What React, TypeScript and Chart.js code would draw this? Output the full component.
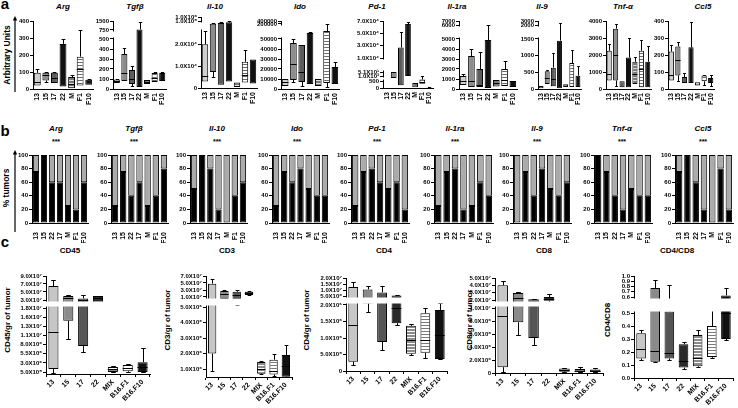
import React, { useEffect, useRef } from 'react';
import { Chart, registerables, LinearScale } from 'chart.js';

Chart.register(...registerables);

const FONT = "'Liberation Sans', Arial, Helvetica, sans-serif";
Chart.defaults.font.family = FONT;
Chart.defaults.color = '#000';

// ---------------- categories ----------------
const CAT_A = ['13', '15', '17', '22', 'M', 'F1', 'F10'];
const CAT_B = ['13', '15', '22', '17', 'M', 'F1', 'F10'];
const CAT_C = ['13', '15', '17', '22', 'MIX', 'B16.F1', 'B16.F10'];

// ---------------- row a : box values ----------------
const argQ1 = [20, 50, 35, 15, 5, 20, 25];
const argQ3 = [95, 95, 95, 265, 70, 190, 55];
const argMed = [40, 80, 65, null, 30, 120, null];
const argMax = [115, 100, 100, 295, 85, 350, 60];
const argMin = [null, 40, null, null, null, null, null];
const argTicks = [0, 100, 200, 300, 400];

const tgfbQ1 = [60, 80, 50, 20, 50, 70, 80];
const tgfbQ3 = [95, 350, 190, 800, 90, 160, 160];
const tgfbMed = [80, 160, 100, null, 70, 110, null];
const tgfbMax = [100, 410, 230, 1400, null, 175, 170];
const tgfbMin = [null, null, 30, null, null, null, null];
const tgfbTicks = [0, 100, 200, 300, 400, 500, 750, 1500];

const il10Q1 = [3000, 7300, 1500, 3000, 500, 2500, 2000];
const il10Q3 = [20000, 80000, 85000, 90000, 2500, 12000, 13000];
const il10Med = [5500, null, null, null, null, 6000, null];
const il10Max = [26000, 88000, 95000, 100000, null, 17500, null];
const il10Min = [null, 4800, null, null, null, null, null];
const il10Ticks = [0, 10000, 20000, 100000, 1000000];
const il10TickLabels = ['0', '1.0X10⁴', '2.0X10⁴', '1.0X10⁵', '1.0X10⁶'];

const idoQ1 = [3000, 9000, 7000, 5000, 3000, 6000, 5000];
const idoQ3 = [10000, 46000, 44000, 110000, 10000, 130000, 22000];
const idoMed = [7000, 25000, 17000, null, null, null, null];
const idoMax = [null, 50000, null, 125000, null, 200000, 27000];
const idoMin = [null, 7000, 3000, null, null, 2000, null];
const idoTicks = [0, 10000, 20000, 30000, 40000, 50000, 200000, 400000];

const pd1Q1 = [0, 800, 200, 1000, 50, 300, 0];
const pd1Q3 = [0, 5000, 27000, 65000, 350, 650, 60];
const pd1Med = [null, null, null, null, null, 450, null];
const pd1Max = [null, null, 52000, 69000, null, 1000, 100];
const pd1Min = [null, null, null, null, null, null, null];
const pd1Ticks = [0, 500, 1000, 5100, 10000, 30000, 50000, 70000];
const pd1TickLabels = ['0', '500', '1.0X10³', '5.1X10³', '1.0X10⁴', '3.0X10⁴', '5.0X10⁴', '7.0X10⁴'];

const il1raQ1 = [400, 200, 200, 100, 250, 300, 200];
const il1raQ3 = [1300, 3300, 2000, 4900, 900, 2000, 800];
const il1raMed = [800, 800, 400, null, 600, 900, null];
const il1raMax = [1500, 4000, 3700, 6100, null, 2800, null];
const il1raMin = [null, null, null, null, null, null, null];
const il1raTicks = [0, 1000, 2000, 3000, 4000, 5000, 6000, 7000];

const il9Q1 = [20, 150, 80, 20, 60, 60, 60];
const il9Q3 = [90, 530, 640, 1450, 140, 780, 400];
const il9Med = [null, 330, 300, null, null, null, null];
const il9Max = [null, 560, 1080, 2500, null, 1170, 690];
const il9Min = [null, null, null, null, null, null, null];
const il9Ticks = [0, 500, 1000, 1500, 2000, 3000];

const tnfQ1 = [500, 500, 100, 100, 300, 100, 100];
const tnfQ3 = [2250, 3550, 450, 1850, 1600, 2250, 1600];
const tnfMed = [900, 2000, null, null, 900, 1200, null];
const tnfMax = [2650, 3850, null, 3000, 1880, 2900, 2550];
const tnfMin = [null, 200, null, null, null, null, null];
const tnfTicks = [0, 1000, 2000, 3000, 4000];

const ccl5Q1 = [50, 80, 35, 35, 20, 45, 35];
const ccl5Q3 = [220, 250, 70, 245, 40, 80, 65];
const ccl5Med = [80, 170, null, null, null, null, null];
const ccl5Max = [260, 275, 95, 395, null, 85, 85];
const ccl5Min = [null, 45, null, null, null, 25, 20];
const ccl5Ticks = [0, 100, 200, 300, 400];

// ---------------- row b : % tumors (black part) ----------------
const argPct = [75, 100, 60, 60, 25, 20, 60];
const tgfbPct = [25, 75, 40, 60, 25, 40, 80];
const il10Pct = [50, 100, 80, 20, 0, 40, 60];
const idoPct = [25, 75, 60, 80, 50, 40, 40];
const pd1Pct = [25, 75, 80, 60, 50, 60, 20];
const il1raPct = [25, 75, 80, 20, 25, 60, 40];
const il9Pct = [0, 75, 40, 80, 50, 40, 60];
const tnfPct = [100, 75, 40, 20, 50, 40, 40];
const ccl5Pct = [75, 100, 60, 20, 0, 80, 20];
const pctTicks = [0, 20, 40, 60, 80, 100];

// ---------------- row c : cell counts ----------------
const cd45Min = [2e5, 9.5e6, 6.0e6, 2.4e7, 4e5, 5e5, 5e5];
const cd45Q1 = [1.3e6, 1.45e7, 7.6e6, 2.6e7, 5e5, 7e5, 5e5];
const cd45Med = [1.15e7, 3.5e7, 3.0e7, 3.5e7, 1.2e6, 1.6e6, 2e6];
const cd45Q3 = [6.5e7, 4.0e7, 3.4e7, 4.0e7, 1.9e6, 2.4e6, 3.2e6];
const cd45Max = [8.0e7, 4.2e7, 4.2e7, 4.1e7, 2.1e6, 2.7e6, 7e6];
const cd45Ticks = [5e5, 3e6, 5.5e6, 8e6, 1.05e7, 1.3e7, 1.55e7, 1.8e7, 3e7, 5e7, 7e7, 9e7];
const cd45TickLabels = ['5.0X10⁵', '3.0X10⁶', '5.5X10⁶', '8.0X10⁶', '1.1X10⁷', '1.3X10⁷', '1.6X10⁷', '1.8X10⁷', '3.0X10⁷', '5.0X10⁷', '7.0X10⁷', '9.0X10⁷'];

const cd3Min = [8.5e5, 7e6, 6e6, 1.5e7, 6.5e5, 5.5e5, 5e5];
const cd3Q1 = [2.0e6, 9e6, 9e6, 1.6e7, 7e5, 6.5e5, 5e5];
const cd3Med = [8e6, 1.9e7, 1.5e7, 2.2e7, 1.0e6, 8.5e5, 1.2e6];
const cd3Q3 = [4.8e7, 2.7e7, 2.5e7, 2.5e7, 1.45e6, 1.6e6, 1.9e6];
const cd3Max = [6.2e7, 2.9e7, 2.9e7, 2.6e7, 1.5e6, 1.95e6, 2.55e6];
const cd3Ticks = [1e6, 2e6, 3e6, 4e6, 5e6, 1e7, 3e7, 5e7, 7e7];
const cd3TickLabels = ['1.0X10⁶', '2.0X10⁶', '3.0X10⁶', '4.0X10⁶', '5.0X10⁶', '1.0X10⁷', '3.0X10⁷', '5.0X10⁷', '7.0X10⁷'];

const cd4Min = [1.8e5, 1.8e6, 6.5e5, 1.4e6, 5e5, 3.8e5, 3.5e5];
const cd4Q1 = [2.8e5, 2.5e6, 8.8e5, 1.45e6, 5.2e5, 5.5e5, 3.6e5];
const cd4Med = [1.4e6, 4e6, 4e6, 1.9e6, 9.5e5, 9.5e5, 1.1e6];
const cd4Q3 = [1.25e7, 1.05e7, 8e6, 5.5e6, 1.37e6, 1.75e6, 1.85e6];
const cd4Max = [1.7e7, 1.3e7, 1.3e7, 6e6, 1.42e6, 1.9e6, 2.6e6];
const cd4Ticks = [0, 5e5, 1e6, 1.5e6, 2e6, 5e6, 1e7, 1.5e7, 2e7];
const cd4TickLabels = ['0', '5.0X10⁵', '1.0X10⁶', '1.5X10⁶', '2.0X10⁶', '5.0X10⁶', '1.0X10⁷', '1.5X10⁷', '2.0X10⁷'];

const cd8Min = [2e5, 5.8e6, 4.3e6, 1.8e7, 1e5, 1e5, 1e5];
const cd8Q1 = [9e5, 7.8e6, 5.4e6, 1.9e7, 2e5, 1.5e5, 1.5e5];
const cd8Med = [8.8e6, 2.3e7, 1.5e7, 2.2e7, 4.5e5, 3.5e5, 3.5e5];
const cd8Q3 = [4.0e7, 2.95e7, 2.1e7, 2.4e7, 7e5, 6e5, 5.5e5];
const cd8Max = [4.6e7, 3.1e7, 2.2e7, 2.8e7, 8e5, 9e5, 7e5];
const cd8Ticks = [0, 2e6, 4e6, 6e6, 8e6, 1e7, 2e7, 3e7, 4e7, 5e7];
const cd8TickLabels = ['0', '2.0X10⁶', '4.0X10⁶', '6.0X10⁶', '8.0X10⁶', '1.0X10⁷', '2.0X10⁷', '3.0X10⁷', '4.0X10⁷', '5.0X10⁷'];

const ratioMin = [0.14, 0.12, 0.14, 0.07, 0.085, 0.155, 0.29];
const ratioQ1 = [0.15, 0.125, 0.15, 0.08, 0.09, 0.16, 0.3];
const ratioMed = [0.22, 0.21, 0.19, 0.13, 0.155, 0.17, 0.5];
const ratioQ3 = [0.345, 0.77, 0.51, 0.26, 0.33, 0.4, 0.63];
const ratioMax = [0.37, 0.92, 0.83, 0.28, 0.37, 0.57, 0.78];
const ratioTicks = [0, 0.1, 0.2, 0.3, 0.4, 0.5, 0.6, 0.7, 0.8, 0.9, 1.0];

// ---------------- broken axis scale ----------------
const brokenMap = new WeakMap();

function warpY(segs, v) {
  const lerp = (x, a, ya, b, yb) => ya + ((x - a) * (yb - ya)) / (b - a);
  const n = segs.length;
  if (v <= segs[0][0]) return lerp(v, segs[0][0], segs[0][1], segs[0][2], segs[0][3]);
  for (let i = 0; i < n; i++) {
    const [a, ya, b, yb] = segs[i];
    if (v >= a && v <= b) return lerp(v, a, ya, b, yb);
    if (i < n - 1 && v > b && v < segs[i + 1][0]) return lerp(v, b, yb, segs[i + 1][0], segs[i + 1][1]);
  }
  const s = segs[n - 1];
  return lerp(v, s[0], s[1], s[2], s[3]);
}

class BrokenScale extends LinearScale {
  static id = 'broken';
  static defaults = {};
  buildTicks() {
    const cfg = brokenMap.get(this.chart.canvas);
    return cfg.ticks.map((v) => ({ value: v }));
  }
  getPixelForValue(v) {
    if (v === null || v === undefined || Number.isNaN(v)) return NaN;
    const cfg = brokenMap.get(this.chart.canvas);
    const y = warpY(cfg.segs, v);
    return this.getPixelForDecimal((cfg.bottom - y) / (cfg.bottom - cfg.top));
  }
}
Chart.register(BrokenScale);

// ---------------- panel layouts ----------------
const ROW_A = [
  { title: 'Arg', tx: 63, x0: 33, x1: 93, top: 21, bottom: 89, yW: 20, segs: [[0, 89, 400, 21]], ticks: argTicks, labels: argTicks.map(String), q1: argQ1, q3: argQ3, med: argMed, max: argMax, min: argMin },
  { title: 'Tgfβ', tx: 135, x0: 113, x1: 166, top: 21, bottom: 89, yW: 20, segs: [[0, 89, 500, 39], [750, 30, 1500, 21]], ticks: tgfbTicks, labels: tgfbTicks.map(String), q1: tgfbQ1, q3: tgfbQ3, med: tgfbMed, max: tgfbMax, min: tgfbMin },
  { title: 'Il-10', tx: 215, x0: 201, x1: 257, top: 17, bottom: 88, yW: 32, segs: [[0, 88, 26000, 31], [100000, 21, 1000000, 17]], ticks: il10Ticks, labels: il10TickLabels, q1: il10Q1, q3: il10Q3, med: il10Med, max: il10Max, min: il10Min },
  { title: 'Ido', tx: 300, x0: 281, x1: 339, top: 21, bottom: 89, yW: 28, segs: [[0, 89, 50000, 39], [200000, 24, 400000, 21]], ticks: idoTicks, labels: idoTicks.map(String), q1: idoQ1, q3: idoQ3, med: idoMed, max: idoMax, min: idoMin },
  { title: 'Pd-1', tx: 377, x0: 383, x1: 433, top: 21, bottom: 88, yW: 32, segs: [[0, 88, 500, 81], [1000, 76, 5100, 72], [10000, 58, 70000, 21]], ticks: pd1Ticks, labels: pd1TickLabels, q1: pd1Q1, q3: pd1Q3, med: pd1Med, max: pd1Max, min: pd1Min },
  { title: 'Il-1ra', tx: 457, x0: 459, x1: 517, top: 21, bottom: 89, yW: 22, segs: [[0, 89, 5000, 39], [6000, 25, 7000, 21]], ticks: il1raTicks, labels: il1raTicks.map(String), q1: il1raQ1, q3: il1raQ3, med: il1raMed, max: il1raMax, min: il1raMin },
  { title: 'Il-9', tx: 542, x0: 538, x1: 581, top: 21, bottom: 89, yW: 22, segs: [[0, 89, 1500, 39], [2000, 25, 3000, 21]], ticks: il9Ticks, labels: il9Ticks.map(String), q1: il9Q1, q3: il9Q3, med: il9Med, max: il9Max, min: il9Min },
  { title: 'Tnf-α', tx: 623, x0: 606, x1: 651, top: 21, bottom: 89, yW: 22, segs: [[0, 89, 4000, 21]], ticks: tnfTicks, labels: tnfTicks.map(String), q1: tnfQ1, q3: tnfQ3, med: tnfMed, max: tnfMax, min: tnfMin },
  { title: 'Ccl5', tx: 703, x0: 668, x1: 714, top: 21, bottom: 89, yW: 20, segs: [[0, 89, 400, 21]], ticks: ccl5Ticks, labels: ccl5Ticks.map(String), q1: ccl5Q1, q3: ccl5Q3, med: ccl5Med, max: ccl5Max, min: ccl5Min },
];

const ROW_B = [
  { title: 'Arg', tx: 56, x0: 32, x1: 88, pct: argPct },
  { title: 'Tgfβ', tx: 134, x0: 111, x1: 168, pct: tgfbPct },
  { title: 'Il-10', tx: 217, x0: 190, x1: 247, pct: il10Pct },
  { title: 'Ido', tx: 297, x0: 272, x1: 329, pct: idoPct },
  { title: 'Pd-1', tx: 377, x0: 351, x1: 409, pct: pd1Pct },
  { title: 'Il-1ra', tx: 455, x0: 434, x1: 493, pct: il1raPct },
  { title: 'Il-9', tx: 537, x0: 513, x1: 571, pct: il9Pct },
  { title: 'Tnf-α', tx: 622, x0: 594, x1: 652, pct: tnfPct },
  { title: 'Ccl5', tx: 703, x0: 675, x1: 733, pct: ccl5Pct },
];

const ROW_C = [
  { title: 'CD45', tx: 70, ytitle: 'CD45/gr of tumor', ytx: 8, x0: 46, x1: 150, top: 276, bottom: 374, yW: 40, segs: [[5e5, 372, 1.8e7, 308], [3e7, 300, 9e7, 276]], ticks: cd45Ticks, labels: cd45TickLabels, min: cd45Min, q1: cd45Q1, med: cd45Med, q3: cd45Q3, max: cd45Max },
  { title: 'CD3', tx: 227, ytitle: 'CD3/gr of tumor', ytx: 168, x0: 206, x1: 292, top: 276, bottom: 377, yW: 40, segs: [[1e6, 369, 5e6, 307], [1e7, 297, 7e7, 276]], ticks: cd3Ticks, labels: cd3TickLabels, min: cd3Min, q1: cd3Q1, med: cd3Med, q3: cd3Q3, max: cd3Max },
  { title: 'CD4', tx: 384, ytitle: 'CD4/gr of tumor', ytx: 307, x0: 346, x1: 447, top: 278, bottom: 371, yW: 40, segs: [[0, 371, 2e6, 305], [5e6, 296, 2e7, 278]], ticks: cd4Ticks, labels: cd4TickLabels, min: cd4Min, q1: cd4Q1, med: cd4Med, q3: cd4Q3, max: cd4Max },
  { title: 'CD8', tx: 544, ytitle: 'CD8/gr of tumor', ytx: 470, x0: 495, x1: 603, top: 278, bottom: 373, yW: 40, segs: [[0, 373, 1e7, 308], [2e7, 300, 5e7, 278]], ticks: cd8Ticks, labels: cd8TickLabels, min: cd8Min, q1: cd8Q1, med: cd8Med, q3: cd8Q3, max: cd8Max },
  { title: 'CD4/CD8', tx: 677, ytitle: 'CD4/CD8', ytx: 608, x0: 634, x1: 733, top: 276, bottom: 378, yW: 18, segs: [[0, 378, 0.5, 313], [0.6, 297, 1.0, 276]], ticks: ratioTicks, labels: ratioTicks.map((v) => v.toFixed(1)), min: ratioMin, q1: ratioQ1, med: ratioMed, q3: ratioQ3, max: ratioMax },
];

// ---------------- helpers ----------------
function stripe(bg, fg, period) {
  const c = document.createElement('canvas');
  c.width = 4;
  c.height = period;
  const g = c.getContext('2d');
  g.fillStyle = bg;
  g.fillRect(0, 0, 4, period);
  g.fillStyle = fg;
  g.fillRect(0, 0, 4, 1);
  return g.createPattern(c, 'repeat');
}

function whiskerPlugin(p, fullBand, capFrac) {
  return {
    id: 'whiskers',
    afterDatasetsDraw(chart) {
      const ctx = chart.ctx;
      const ys = chart.scales.y;
      const area = chart.chartArea;
      const meta = chart.getDatasetMeta(0);
      ctx.save();
      ctx.strokeStyle = '#000';
      ctx.lineWidth = 1;
      meta.data.forEach((bar, i) => {
        const x = Math.round(bar.x) + 0.5;
        const hw = bar.width / 2;
        const cw = hw * capFrac;
        const yq1 = ys.getPixelForValue(p.q1[i]);
        const yq3 = ys.getPixelForValue(p.q3[i]);
        ctx.beginPath();
        if (p.max[i] != null) {
          const ym = Math.round(ys.getPixelForValue(p.max[i])) + 0.5;
          ctx.moveTo(x, yq3);
          ctx.lineTo(x, ym);
          ctx.moveTo(x - cw, ym);
          ctx.lineTo(x + cw, ym);
        }
        if (p.min[i] != null) {
          const yn = Math.round(ys.getPixelForValue(p.min[i])) + 0.5;
          ctx.moveTo(x, yq1);
          ctx.lineTo(x, yn);
          ctx.moveTo(x - cw, yn);
          ctx.lineTo(x + cw, yn);
        }
        if (p.med[i] != null) {
          const yd = Math.round(ys.getPixelForValue(p.med[i])) + 0.5;
          ctx.moveTo(bar.x - hw, yd);
          ctx.lineTo(bar.x + hw, yd);
        }
        ctx.stroke();
      });
      const segs = p.segs;
      ctx.fillStyle = '#fff';
      for (let k = 0; k < segs.length - 1; k++) {
        const yT = ys.getPixelForValue(segs[k + 1][0]) + 1.5;
        const yB = ys.getPixelForValue(segs[k][2]) - 1.5;
        if (yB > yT) {
          const xl = area.left - 5;
          const xr = fullBand ? area.right + 1 : area.left + 1.5;
          ctx.fillRect(xl, yT, xr - xl, yB - yT);
        }
      }
      ctx.restore();
    },
  };
}

function BoxPanel({ p, row }) {
  const ref = useRef(null);
  const padT = 4;
  const xH = row === 'a' ? 22 : p.title === 'CD4/CD8' ? 30 : 34;
  const left = p.x0 - p.yW;
  const top = p.top - padT;
  const width = p.x1 - p.x0 + p.yW + 2;
  const height = padT + (p.bottom - p.top) + xH;
  useEffect(() => {
    const canvas = ref.current;
    brokenMap.set(canvas, { segs: p.segs, ticks: p.ticks, top: p.top, bottom: p.bottom });
    const fills =
      row === 'a'
        ? ['#cfcfcf', '#8c8c8c', '#5c5c5c', '#111111', stripe('#777777', '#dddddd', 3), stripe('#ffffff', '#6a6a6a', 3), '#111111']
        : ['#c6c6c6', '#8a8a8a', '#555555', '#2a2a2a', stripe('#8a8a8a', '#ffffff', 3), stripe('#ffffff', '#7a7a7a', 3), '#111111'];
    const cats = row === 'a' ? CAT_A : CAT_C;
    const rot = row === 'a' ? 90 : 45;
    const chart = new Chart(canvas, {
      type: 'bar',
      data: {
        labels: cats,
        datasets: [
          {
            data: p.q1.map((lo, i) => [lo, p.q3[i]]),
            backgroundColor: fills,
            borderColor: '#000',
            borderWidth: 1,
            borderSkipped: false,
            barPercentage: row === 'a' ? 0.8 : 0.68,
            categoryPercentage: 1,
          },
        ],
      },
      options: {
        animation: false,
        responsive: false,
        devicePixelRatio: 1,
        events: [],
        layout: { padding: { top: padT, right: 2, left: 0, bottom: 0 } },
        plugins: { legend: { display: false }, tooltip: { enabled: false }, title: { display: false } },
        scales: {
          x: {
            type: 'category',
            grid: { display: row !== 'a', drawOnChartArea: false, drawTicks: true, tickLength: 3, color: '#000' },
            border: { display: true, color: '#000', width: 1 },
            ticks: { autoSkip: false, minRotation: rot, maxRotation: rot, padding: 1, color: '#000', font: { size: 7, weight: 'bold', family: FONT } },
            afterFit: (s) => {
              s.height = xH;
              s.paddingLeft = 0;
              s.paddingRight = 0;
            },
          },
          y: {
            type: 'broken',
            grid: { display: true, drawOnChartArea: false, drawTicks: true, tickLength: 3, color: '#000' },
            border: { display: true, color: '#000', width: 1 },
            ticks: {
              autoSkip: false,
              padding: 1,
              color: '#000',
              font: { size: 6, weight: 'bold', family: FONT },
              callback: (v, i) => p.labels[i],
            },
            afterFit: (s) => {
              s.width = p.yW;
              s.paddingTop = 0;
              s.paddingBottom = 0;
            },
          },
        },
      },
      plugins: [whiskerPlugin(p, row === 'c', row === 'a' ? 0.55 : 0.45)],
    });
    return () => chart.destroy();
  }, []);
  return <canvas ref={ref} width={width} height={height} style={{ position: 'absolute', left, top, width, height }} />;
}

function StackPanel({ p }) {
  const ref = useRef(null);
  const padT = 4;
  const yW = 16;
  const xH = 20;
  const areaTop = 155;
  const areaBottom = 223;
  const left = p.x0 - yW;
  const top = areaTop - padT;
  const width = p.x1 - p.x0 + yW + 2;
  const height = padT + (areaBottom - areaTop) + xH;
  useEffect(() => {
    const canvas = ref.current;
    const chart = new Chart(canvas, {
      type: 'bar',
      data: {
        labels: CAT_B,
        datasets: [
          { data: p.pct, backgroundColor: '#000', borderColor: '#000', borderWidth: 1, borderSkipped: false, barPercentage: 0.78, categoryPercentage: 1 },
          { data: p.pct.map((v) => 100 - v), backgroundColor: '#ababab', borderColor: '#000', borderWidth: 1, borderSkipped: false, barPercentage: 0.78, categoryPercentage: 1 },
        ],
      },
      options: {
        animation: false,
        responsive: false,
        devicePixelRatio: 1,
        events: [],
        layout: { padding: { top: padT, right: 2, left: 0, bottom: 0 } },
        plugins: { legend: { display: false }, tooltip: { enabled: false } },
        scales: {
          x: {
            stacked: true,
            grid: { display: false },
            border: { display: true, color: '#000', width: 1 },
            ticks: { autoSkip: false, minRotation: 90, maxRotation: 90, padding: 1, color: '#000', font: { size: 7, weight: 'bold', family: FONT } },
            afterFit: (s) => {
              s.height = xH;
              s.paddingLeft = 0;
              s.paddingRight = 0;
            },
          },
          y: {
            stacked: true,
            min: 0,
            max: 100,
            afterBuildTicks: (s) => {
              s.ticks = pctTicks.map((v) => ({ value: v }));
            },
            grid: { display: true, drawOnChartArea: false, drawTicks: true, tickLength: 3, color: '#000' },
            border: { display: true, color: '#000', width: 1 },
            ticks: { autoSkip: false, padding: 1, color: '#000', font: { size: 6, weight: 'bold', family: FONT } },
            afterFit: (s) => {
              s.width = yW;
              s.paddingTop = 0;
              s.paddingBottom = 0;
            },
          },
        },
      },
    });
    return () => chart.destroy();
  }, []);
  return <canvas ref={ref} width={width} height={height} style={{ position: 'absolute', left, top, width, height }} />;
}

function T({ x, y, children, size = 8, italic = false, rotate = 0 }) {
  return (
    <div
      style={{
        position: 'absolute',
        left: x,
        top: y,
        transform: `translate(-50%, -50%) rotate(${rotate}deg)`,
        whiteSpace: 'nowrap',
        fontFamily: FONT,
        fontWeight: 700,
        fontStyle: italic ? 'italic' : 'normal',
        fontSize: size,
        lineHeight: 1,
        color: '#000',
      }}
    >
      {children}
    </div>
  );
}

function Arrow({ x, y1, y2 }) {
  return (
    <svg style={{ position: 'absolute', left: x - 4, top: y1 - 1, width: 8, height: y2 - y1 + 2 }} width={8} height={y2 - y1 + 2}>
      <line x1={4} y1={3} x2={4} y2={y2 - y1 + 1} stroke="#000" strokeWidth={1.2} />
      <polygon points={`4,0 1.8,4.5 6.2,4.5`} fill="#000" />
    </svg>
  );
}

export default function App() {
  return (
    <div style={{ position: 'absolute', left: 0, top: 0, width: 738, height: 408, background: '#fff', overflow: 'hidden' }}>
      <T x={5} y={3} size={15}>a</T>
      <T x={5} y={130} size={15}>b</T>
      <T x={5} y={241} size={15}>c</T>

      <Arrow x={15} y1={17} y2={92} />
      <T x={7} y={55} size={8.5} rotate={-90}>Arbitrary Units</T>
      <Arrow x={15} y1={151} y2={232} />
      <T x={6} y={188} size={8.5} rotate={-90}>% tumors</T>

      {ROW_A.map((p) => (
        <T key={'ta' + p.title} x={p.tx} y={7} size={8} italic>{p.title}</T>
      ))}
      {ROW_B.map((p) => (
        <React.Fragment key={'tb' + p.title}>
          <T x={p.tx} y={129} size={8} italic>{p.title}</T>
          <T x={p.tx} y={141} size={7}>***</T>
        </React.Fragment>
      ))}
      {ROW_C.map((p) => (
        <React.Fragment key={'tc' + p.title}>
          <T x={p.tx} y={251} size={8}>{p.title}</T>
          <T x={p.ytx} y={320} size={8} rotate={-90}>{p.ytitle}</T>
        </React.Fragment>
      ))}

      {ROW_A.map((p) => (
        <BoxPanel key={'a' + p.title} p={p} row="a" />
      ))}
      {ROW_B.map((p) => (
        <StackPanel key={'b' + p.title} p={p} />
      ))}
      {ROW_C.map((p) => (
        <BoxPanel key={'c' + p.title} p={p} row="c" />
      ))}
    </div>
  );
}
